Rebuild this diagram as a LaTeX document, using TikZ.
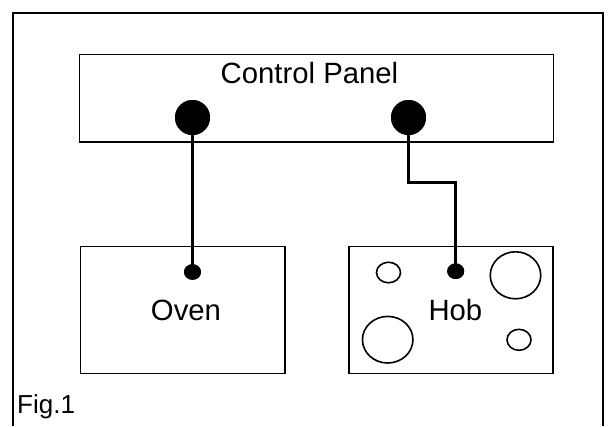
\documentclass[tikz,border=0pt]{standalone}
\usepackage{fontspec}
\setmainfont{Liberation Sans}
\usetikzlibrary{shapes.geometric}
\begin{document}
\begin{tikzpicture}[x=1pt,y=-1pt,
  frame/.style={line width=2.4pt},
  box/.style={draw,line width=1.4pt,rectangle,inner sep=0pt},
  label/.style={font=\fontsize{29.3}{31}\selectfont,anchor=base,inner sep=0pt},
  bigdot/.style={circle,fill=black,inner sep=0pt,minimum size=35pt},
  smalldot/.style={ellipse,fill=black,inner sep=0pt,minimum width=17pt,minimum height=15.6pt},
  burner/.style={ellipse,draw,line width=1.6pt,inner sep=0pt},
  wire/.style={line width=2.8pt}]
\useasboundingbox (0,0) rectangle (608,426);
\fill[white] (0,0) rectangle (608,426);
% outer frame (open at bottom)
\draw[frame] (13,426) -- (13,13) -- (603,13) -- (603,426);
% boxes
\node[box,minimum width=474pt,minimum height=87.7pt] (panel) at (316.5,98.2) {};
\node[box,minimum width=204.3pt,minimum height=127pt] (oven) at (182.7,309.8) {};
\node[box,minimum width=204pt,minimum height=127pt] (hob) at (450.8,309.8) {};
% labels
\node[label] (paneltext) at (309.5,83.3) {Control Panel};
\node[label] (oventext) at (186,320) {Oven};
\node[label] (hobtext) at (455.4,320) {Hob};
\node[font=\fontsize{26}{28}\selectfont,anchor=base west,inner sep=0pt] (fig) at (17,413) {Fig.1};
% burners
\node[burner,minimum width=24pt,minimum height=20.5pt] (b1) at (388.5,272.5) {};
\node[burner,minimum width=50.5pt,minimum height=47pt] (b2) at (515.5,275.3) {};
\node[burner,minimum width=50.5pt,minimum height=46.6pt] (b3) at (387.7,339.7) {};
\node[burner,minimum width=24pt,minimum height=21pt] (b4) at (519,339.8) {};
% dots
\node[bigdot] (cpL) at (192.5,117.5) {};
\node[bigdot] (cpR) at (408.5,117.5) {};
\node[smalldot] (ovenDot) at (192.5,272) {};
\node[smalldot] (hobDot) at (455.7,271.2) {};
% wires
\coordinate (k1) at (408.5,182.8);
\coordinate (k2) at (455.7,182.8);
\draw[wire] (cpL.center) -- (ovenDot.center);
\draw[wire] (cpR.center) -- (k1) -- (k2) -- (hobDot.center);
% redraw dots on top
\node[bigdot] at (cpL) {};
\node[bigdot] at (cpR) {};
\node[smalldot] at (ovenDot) {};
\node[smalldot] at (hobDot) {};
\end{tikzpicture}
\end{document}
